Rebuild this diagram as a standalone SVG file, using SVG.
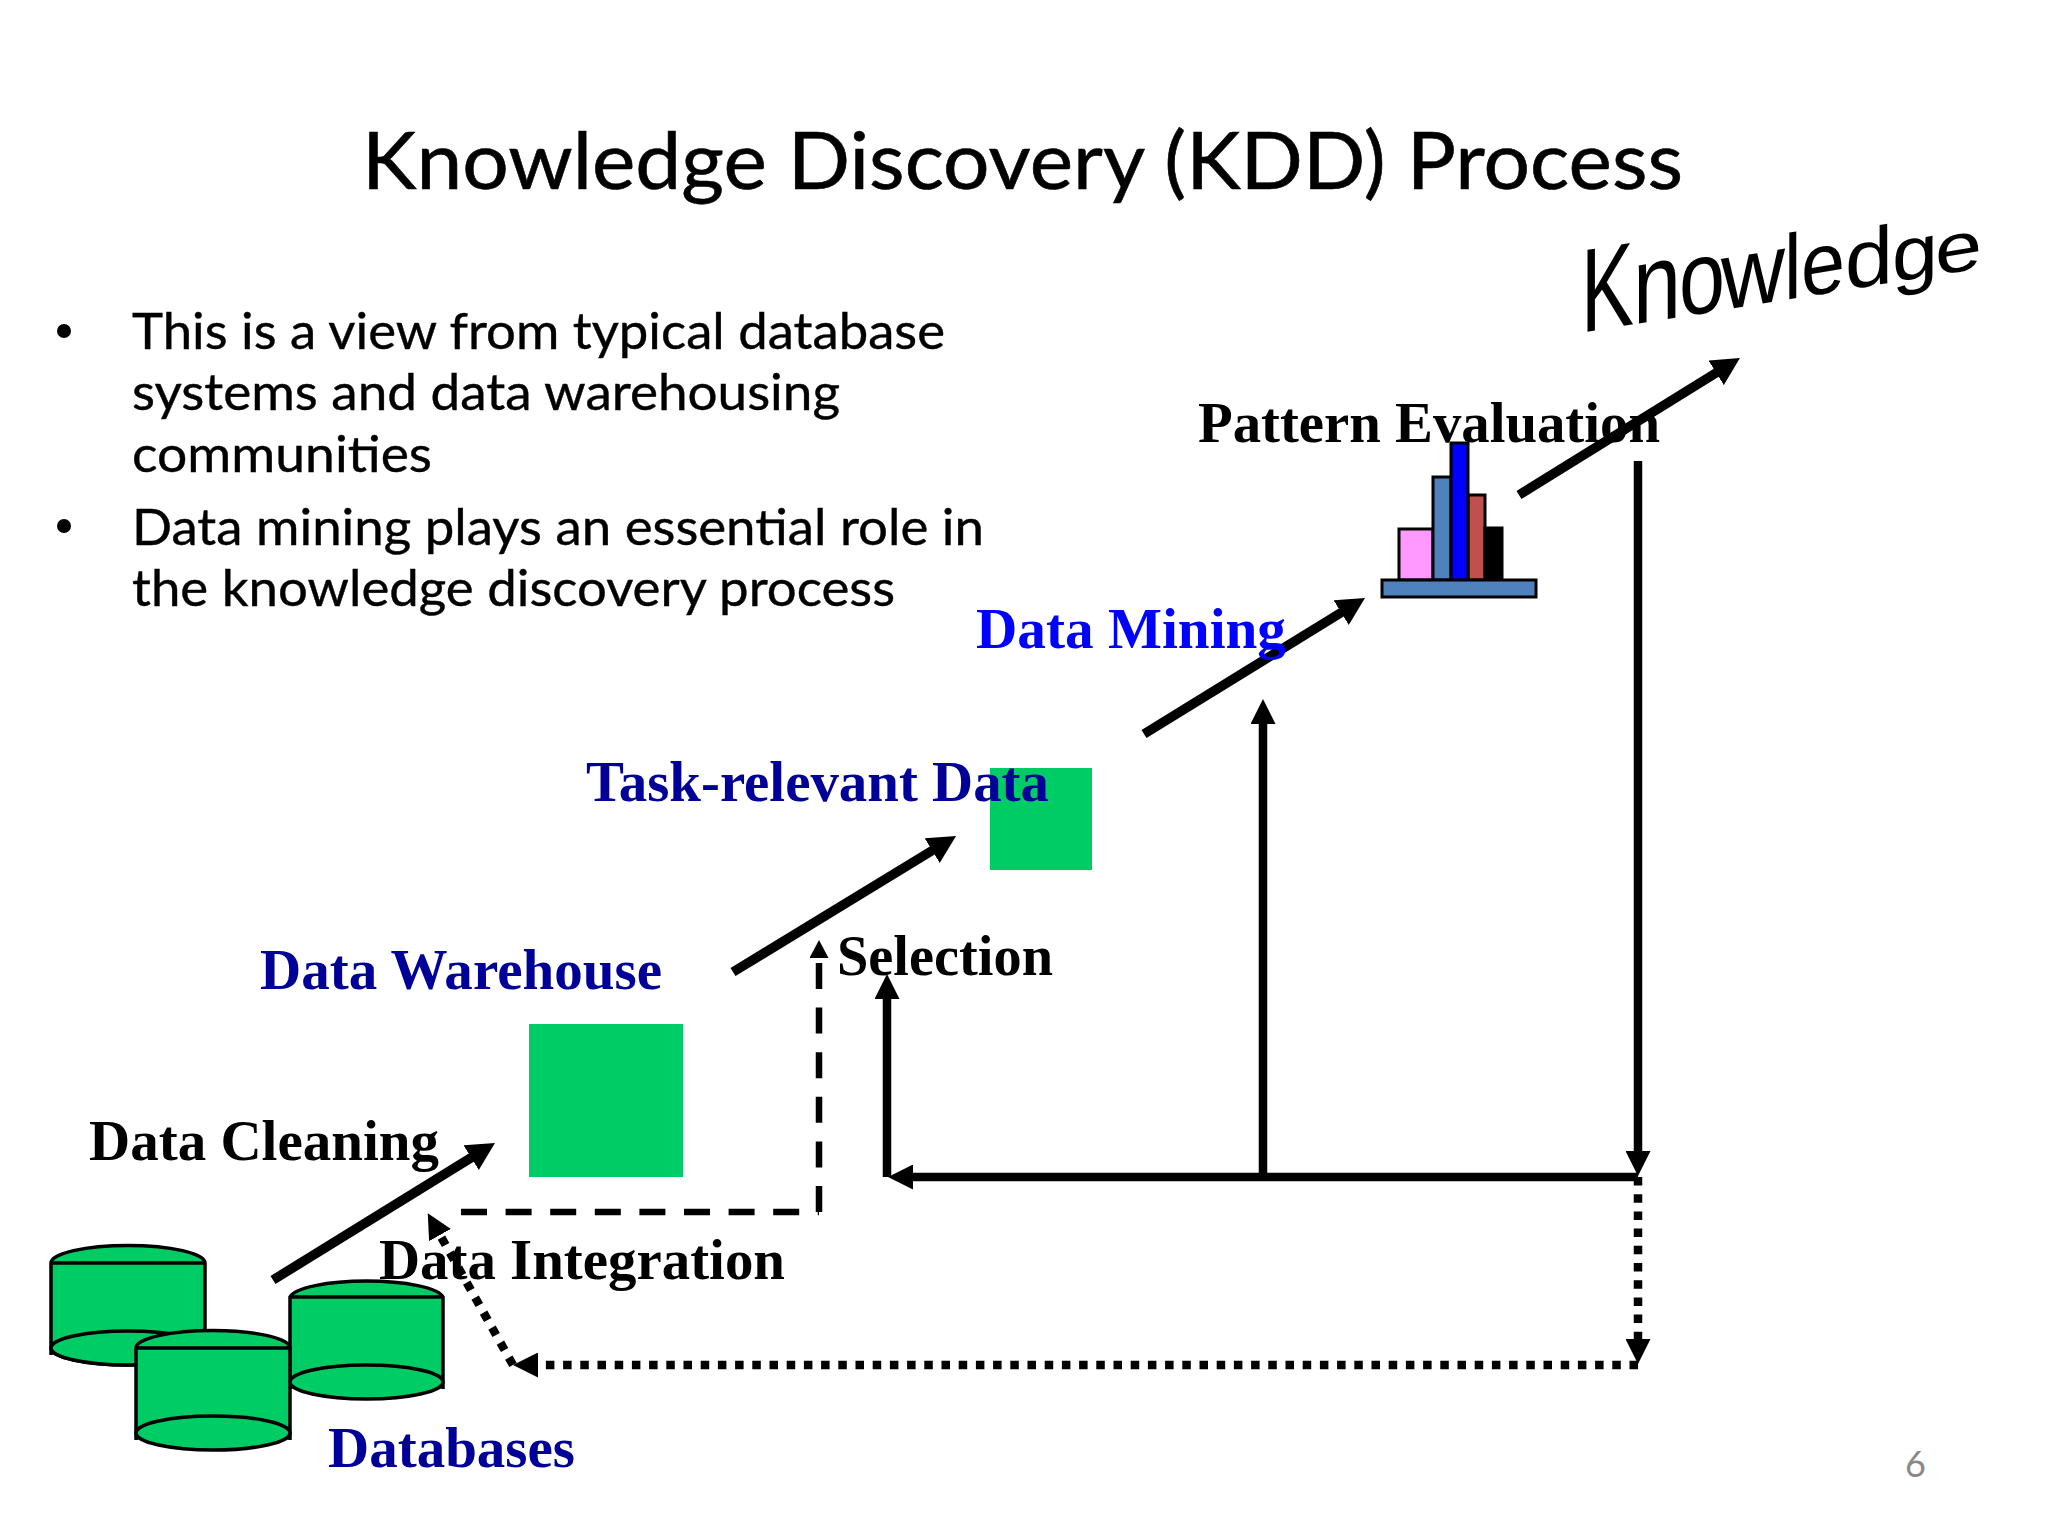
<svg xmlns="http://www.w3.org/2000/svg" width="2048" height="1536" viewBox="0 0 2048 1536">
<style>
.body{font-family:"Lato","Carlito","Open Sans",sans-serif;font-size:51px;fill:#000;stroke:#000;stroke-width:.4}
.title{font-family:"Lato","Carlito","Open Sans",sans-serif;font-size:79px;fill:#000;stroke:#000;stroke-width:.6}
.lab{font-family:"Liberation Serif","Times New Roman",serif;font-weight:bold;font-size:57px}
.blk{fill:#000}.navy{fill:#000099}.blu{fill:#0000ff}
.sq{fill:#00cc66}
.cyl{fill:#00cc66;stroke:#000;stroke-width:3.5}
.bar{stroke:#000;stroke-width:3}
.c{fill:none;stroke:#000;stroke-width:8.5}
.d{fill:none;stroke:#000;stroke-width:9.5}
.dash{fill:none;stroke:#000;stroke-width:6.500;stroke-dasharray:26 18.6}
.dot{fill:none;stroke:#000;stroke-width:8.5;stroke-dasharray:8.5 8.7}
</style>
<defs>
<marker id="h" markerUnits="userSpaceOnUse" markerWidth="25" markerHeight="25" viewBox="0 0 25 25" refX="0" refY="12.5" orient="auto"><path d="M0,0L25,12.5L0,25Z" fill="#000"/></marker>
<marker id="hd" markerUnits="userSpaceOnUse" markerWidth="28" markerHeight="29" viewBox="0 0 28 29" refX="3" refY="14.5" orient="auto"><path d="M0,0L28,14.5L0,29Z" fill="#000"/></marker>
<marker id="hs" markerUnits="userSpaceOnUse" markerWidth="18" markerHeight="19" viewBox="0 0 18 19" refX="0" refY="9.5" orient="auto"><path d="M0,0L18,9.5L0,19Z" fill="#000"/></marker>
</defs>
<rect width="2048" height="1536" fill="#fff"/>
<text id="title" class="title" x="362" y="189" textLength="1321" lengthAdjust="spacingAndGlyphs">Knowledge Discovery (KDD) Process</text>
<g id="bullets">
<circle cx="64" cy="331" r="7" fill="#000"/>
<circle cx="64" cy="526" r="7" fill="#000"/>
<text class="body" x="132" y="349" textLength="813" lengthAdjust="spacingAndGlyphs">This is a view from typical database</text>
<text class="body" x="132" y="410" textLength="708" lengthAdjust="spacingAndGlyphs">systems and data warehousing</text>
<text class="body" x="132" y="472" textLength="300" lengthAdjust="spacingAndGlyphs">communities</text>
<text class="body" x="132" y="545" textLength="852" lengthAdjust="spacingAndGlyphs">Data mining plays an essential role in</text>
<text class="body" x="132" y="606" textLength="763" lengthAdjust="spacingAndGlyphs">the knowledge discovery process</text>
</g>
<g id="data-warehouse-node"><rect class="sq" x="529" y="1024" width="154" height="153"/></g>
<g id="task-data-node"><rect class="sq" x="990" y="768" width="102" height="102"/></g>
<g id="databases">
<g id="db1"><path class="cyl" d="M51,1355V1263A77,17.500 0 0 1 205,1263V1348A77,17 0 0 1 51,1348M51,1263H205"/><ellipse class="cyl" cx="128" cy="1348" rx="77" ry="17"/></g>
<g id="db3"><path class="cyl" d="M290,1389V1297A77,18 0 0 1 443,1297V1389M290,1297H443"/><ellipse class="cyl" cx="366.500" cy="1382" rx="76.500" ry="17"/></g>
<g id="db2"><path class="cyl" d="M136,1440V1348A77,17.500 0 0 1 290,1348V1440M136,1348H290"/><ellipse class="cyl" cx="213" cy="1433" rx="77" ry="17"/></g>
</g>
<g id="pattern-node">
<rect class="bar" fill="#ff99ff" x="1399" y="529" width="34" height="51"/>
<rect class="bar" fill="#4f81bd" x="1433" y="477" width="18" height="103"/>
<rect class="bar" fill="#c0504d" x="1468" y="495" width="17" height="85"/>
<rect class="bar" fill="#000000" x="1485" y="528" width="17" height="52"/>
<rect class="bar" fill="#0000ff" x="1451" y="443" width="17" height="137"/>
<rect class="bar" fill="#4f81bd" x="1382" y="580" width="154" height="17"/>
</g>
<g id="connectors">
<path class="d" d="M273,1280L473.700,1156.100" marker-end="url(#hd)"/>
<path class="d" d="M733,972L934.700,849" marker-end="url(#hd)"/>
<path class="d" d="M1144,734L1343.700,611" marker-end="url(#hd)"/>
<path class="d" d="M1519,495L1718.700,371.200" marker-end="url(#hd)"/>
<path class="c" d="M1638,461V1151" marker-end="url(#h)"/>
<path class="c" d="M1638,1177H913" marker-end="url(#h)"/>
<path class="c" d="M887,1177V999" marker-end="url(#h)"/>
<path class="c" d="M1263,1177V724" marker-end="url(#h)"/>
<path class="dash" d="M461,1212H819"/>
<path class="dash" d="M819,1212V958" marker-end="url(#hs)"/>
<path class="dot" d="M1638,1177V1339" marker-end="url(#h)"/>
<path class="dot" d="M1638,1365H538" marker-end="url(#h)"/>
<path class="dot" d="M513,1365L440,1235" marker-end="url(#h)"/>
</g>
<g id="labels">
<text class="lab blk" x="89" y="1160" textLength="350" lengthAdjust="spacingAndGlyphs">Data Cleaning</text>
<text class="lab blk" x="379" y="1279" textLength="406" lengthAdjust="spacingAndGlyphs">Data Integration</text>
<text class="lab navy" x="328" y="1467" textLength="247" lengthAdjust="spacingAndGlyphs">Databases</text>
<text class="lab navy" x="260" y="989" textLength="402" lengthAdjust="spacingAndGlyphs">Data Warehouse</text>
<text class="lab navy" x="586" y="801" textLength="463" lengthAdjust="spacingAndGlyphs">Task-relevant Data</text>
<text class="lab blk" x="837" y="975" textLength="216" lengthAdjust="spacingAndGlyphs">Selection</text>
<text class="lab blu" x="976" y="648" textLength="310" lengthAdjust="spacingAndGlyphs">Data Mining</text>
<text class="lab blk" x="1198" y="442" textLength="462" lengthAdjust="spacingAndGlyphs">Pattern Evaluation</text>
</g>
<text id="knowledge" transform="matrix(1,-0.162,0,1,0,0)" font-family="Liberation Sans,Arial,sans-serif" fill="#000"><tspan x="1581" y="589" font-size="119" textLength="53" lengthAdjust="spacingAndGlyphs">K</tspan><tspan x="1633" y="589" font-size="110" textLength="48" lengthAdjust="spacingAndGlyphs">n</tspan><tspan x="1679" y="589" font-size="104" textLength="46" lengthAdjust="spacingAndGlyphs">o</tspan><tspan x="1721" y="589" font-size="97" textLength="64" lengthAdjust="spacingAndGlyphs">w</tspan><tspan x="1784" y="589" font-size="92" textLength="17.500" lengthAdjust="spacingAndGlyphs">l</tspan><tspan x="1801" y="589" font-size="88" textLength="44" lengthAdjust="spacingAndGlyphs">e</tspan><tspan x="1845" y="589" font-size="82" textLength="48" lengthAdjust="spacingAndGlyphs">d</tspan><tspan x="1892" y="589" font-size="76" textLength="46" lengthAdjust="spacingAndGlyphs">g</tspan><tspan x="1935" y="589" font-size="70" textLength="47" lengthAdjust="spacingAndGlyphs">e</tspan></text>
<text id="page-number" x="1905" y="1477" font-family="Lato,Open Sans,sans-serif" font-size="36" fill="#898989">6</text>
</svg>
